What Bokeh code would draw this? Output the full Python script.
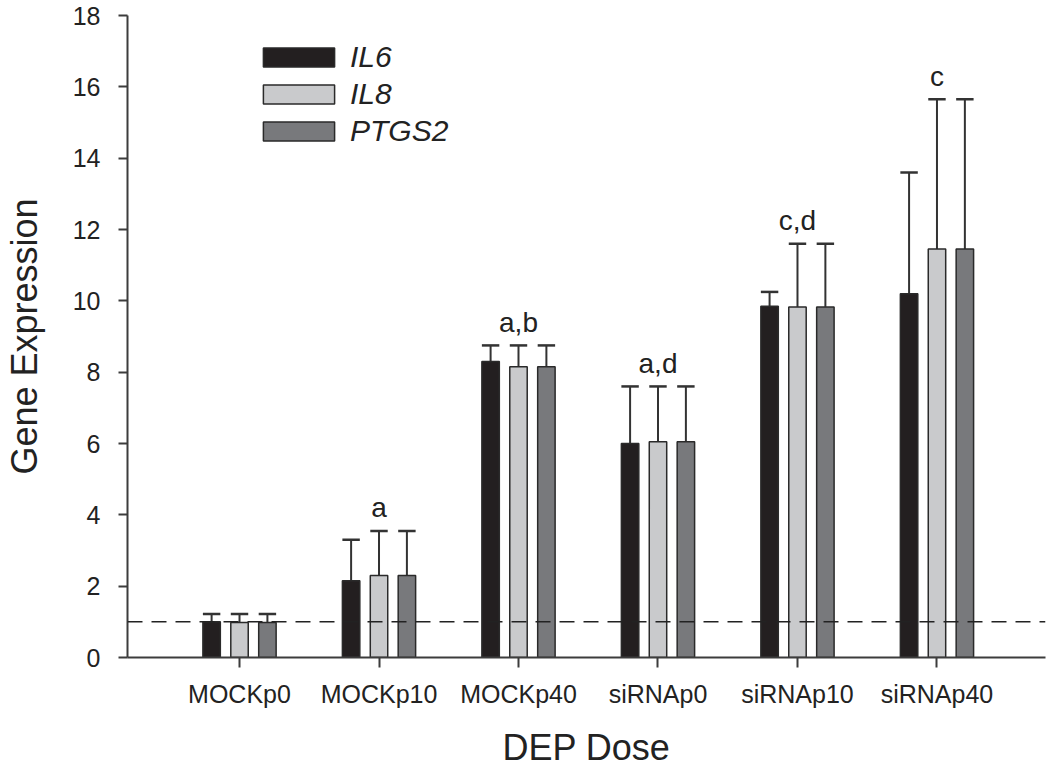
import numpy as np
from bokeh.plotting import figure
from bokeh.models import (FixedTicker, Span, Legend, LegendItem, ColumnDataSource, Range1d)
from bokeh.core.properties import value
from bokeh.embed import file_html
from bokeh.resources import INLINE

# ---- data ----
categories = ["MOCKp0", "MOCKp10", "MOCKp40", "siRNAp0", "siRNAp10", "siRNAp40"]
series_names = ["IL6", "IL8", "PTGS2"]
il6 = [1.0, 2.15, 8.3, 6.0, 9.85, 10.2]
il8 = [0.98, 2.3, 8.15, 6.05, 9.83, 11.45]
ptgs2 = [0.98, 2.3, 8.15, 6.05, 9.83, 11.45]
il6_err = [0.22, 1.15, 0.45, 1.6, 0.4, 3.4]
il8_err = [0.24, 1.25, 0.6, 1.55, 1.77, 4.2]
ptgs2_err = [0.24, 1.25, 0.6, 1.55, 1.77, 4.2]
sig_labels = ["", "a", "a,b", "a,d", "c,d", "c"]
baseline = 1.0
y_ticks = [0, 2, 4, 6, 8, 10, 12, 14, 16, 18]

# ---- styles ----
FONT = "Liberation Sans"
colors = ["#231f20", "#c9cacc", "#78797c"]
offsets = [-0.2, 0.0, 0.2]
bar_w = 0.125
axis_col = "#3c3c3c"

p = figure(width=1048, height=770, output_backend="svg", toolbar_location=None,
           x_range=Range1d(-0.803, 5.778), y_range=Range1d(0, 18),
           min_border_left=127, min_border_right=3, min_border_top=15,
           min_border_bottom=111)
p.outline_line_color = None
p.xgrid.visible = False
p.ygrid.visible = False
p.background_fill_color = "white"

xs = np.arange(len(categories))
vals = [il6, il8, ptgs2]
errs = [il6_err, il8_err, ptgs2_err]
items = []
for i, (name, v, e) in enumerate(zip(series_names, vals, errs)):
    x = xs + offsets[i]
    v = np.array(v)
    e = np.array(e)
    src = ColumnDataSource(dict(x=x, top=v, up=v + e, x0=x - bar_w / 2, x1=x + bar_w / 2))
    # error stem and cap
    p.segment(x0="x", y0="top", x1="x", y1="up", source=src, line_color="#333333", line_width=2)
    p.segment(x0="x0", y0="up", x1="x1", y1="up", source=src, line_color="#333333", line_width=2.5)
    r = p.vbar(x="x", top="top", bottom=0, width=bar_w, source=src,
               fill_color=colors[i], line_color="#2a2a2a", line_width=1.5)
    items.append(LegendItem(label=name, renderers=[r]))

p.add_layout(Span(location=baseline, dimension="width", line_color="#222222",
                  line_width=1.5, line_dash="15 9"))

# significance letters
tops = np.max([np.array(v) + np.array(e) for v, e in zip(vals, errs)], axis=0)
p.text(x=xs, y=tops + 0.65, text=sig_labels, text_align="center", text_baseline="middle",
       text_font=value(FONT), text_font_size="28px", text_color="#222222")

legend = Legend(items=items, location=(127, 509), orientation="vertical",
                glyph_width=89, glyph_height=24, label_standoff=7, spacing=3,
                padding=0, margin=0, border_line_color=None, background_fill_alpha=0,
                label_text_font=FONT, label_text_font_size="30px",
                label_text_font_style="italic", label_text_color="#222222",
                label_height=24)
p.add_layout(legend, "center")

# axes
for ax in (p.xaxis[0], p.yaxis[0]):
    ax.axis_line_color = axis_col
    ax.axis_line_width = 2
    ax.major_tick_line_color = axis_col
    ax.major_tick_line_width = 2
    ax.minor_tick_line_color = None
    ax.major_tick_in = 0
    ax.major_label_text_font = FONT
    ax.major_label_text_font_size = "25px"
    ax.major_label_text_color = "#222222"
    ax.axis_label_text_font = FONT
    ax.axis_label_text_font_size = "36px"
    ax.axis_label_text_font_style = "normal"
    ax.axis_label_text_color = "#222222"

p.xaxis.ticker = FixedTicker(ticks=list(range(len(categories))))
p.xaxis.major_label_overrides = {i: c for i, c in enumerate(categories)}
p.xaxis.major_tick_out = 10
p.xaxis.major_label_standoff = 12
p.xaxis.axis_label = "DEP Dose"
p.xaxis.axis_label_standoff = 16

p.yaxis.ticker = FixedTicker(ticks=y_ticks)
p.yaxis.major_tick_out = 9
p.yaxis.major_label_standoff = 18
p.yaxis.axis_label = "Gene Expression"
p.yaxis.axis_label_standoff = 25

open("out.html", "w").write(file_html(p, INLINE))
